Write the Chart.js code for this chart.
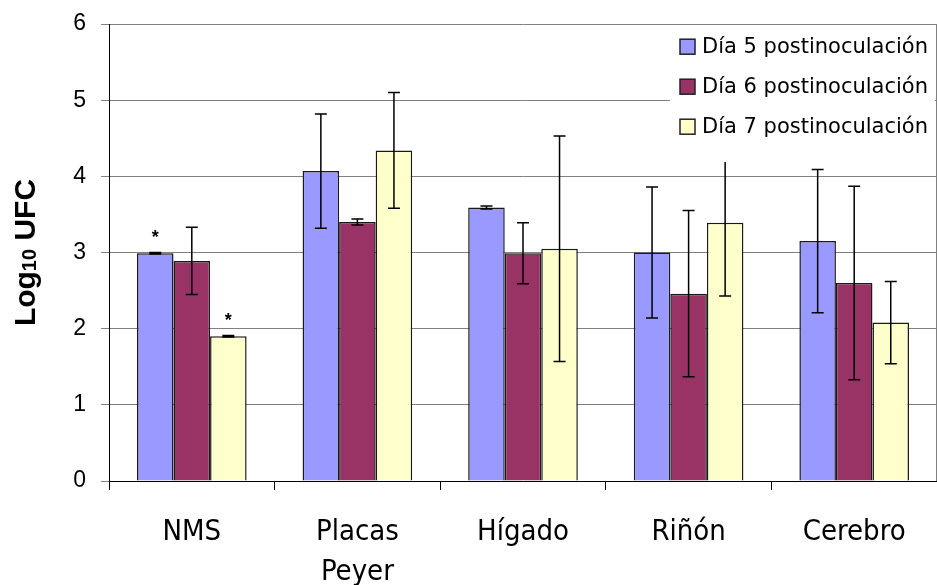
<!DOCTYPE html>
<html>
<head>
<meta charset="utf-8">
<script src="https://cdn.jsdelivr.net/npm/chart.js"></script>
<style>
  html, body { margin: 0; padding: 0; background: #ffffff; }
  #c { display: block; }
</style>
</head>
<body>
<canvas id="c" width="937" height="585"></canvas>
<script>
const categories = ['NMS', ['Placas', 'Peyer'], 'Hígado', 'Riñón', 'Cerebro'];
const seriesLabels = ['Día 5 postinoculación', 'Día 6 postinoculación', 'Día 7 postinoculación'];
const dia5 = [2.99, 4.07, 3.59, 3.00, 3.15];
const err5 = [0.01, 0.75, 0.02, 0.86, 0.94];
const dia6 = [2.89, 3.40, 2.99, 2.46, 2.60];
const err6 = [0.44, 0.04, 0.40, 1.09, 1.27];
const dia7 = [1.90, 4.34, 3.05, 3.39, 2.08];
const err7 = [0.01, 0.76, 1.48, 0.96, 0.54];
const mark5 = ['*', '', '', '', ''];
const mark6 = ['', '', '', '', ''];
const mark7 = ['*', '', '', '', ''];
const yTicks = [0, 1, 2, 3, 4, 5, 6];

const COND = "'DejaVu Sans Condensed', 'DejaVu Sans', sans-serif";
const DEJAVU = "'DejaVu Sans', sans-serif";
const ARIAL = "'Liberation Sans', Arial, sans-serif";

const errorBars = {
  id: 'errorBars',
  afterDatasetsDraw(chart) {
    const ctx = chart.ctx;
    const y = chart.scales.y;
    ctx.save();
    ctx.strokeStyle = '#000000';
    ctx.lineWidth = 1.5;
    chart.data.datasets.forEach((ds, di) => {
      const meta = chart.getDatasetMeta(di);
      meta.data.forEach((bar, i) => {
        const v = ds.data[i], e = ds.errors[i];
        const yt = y.getPixelForValue(v + e);
        const yb = y.getPixelForValue(v - e);
        const x = bar.x;
        ctx.beginPath();
        ctx.moveTo(x, yt); ctx.lineTo(x, yb);
        ctx.moveTo(x - 6, yt); ctx.lineTo(x + 6, yt);
        ctx.moveTo(x - 6, yb); ctx.lineTo(x + 6, yb);
        ctx.stroke();
        const m = ds.marks[i];
        if (m) {
          ctx.fillStyle = '#000000';
          ctx.font = "bold 18px " + ARIAL;
          ctx.textAlign = 'center';
          ctx.textBaseline = 'alphabetic';
          ctx.fillText(m, x, y.getPixelForValue(v + e) - 10);
        }
      });
    });
    ctx.restore();
  }
};

const frameAndLegend = {
  id: 'frameAndLegend',
  afterDraw(chart) {
    const ctx = chart.ctx;
    const a = chart.chartArea;
    ctx.save();
    ctx.strokeStyle = '#808080';
    ctx.lineWidth = 1;
    ctx.beginPath();
    ctx.moveTo(a.right - 0.5, a.top);
    ctx.lineTo(a.right - 0.5, a.bottom);
    ctx.stroke();
    const lx = a.right - 267, ly = a.top + 4, lw = 265, lh = 134;
    ctx.fillStyle = '#ffffff';
    ctx.fillRect(lx, ly, lw, lh);
    ctx.font = "21px " + DEJAVU;
    ctx.textAlign = 'left';
    ctx.textBaseline = 'middle';
    chart.data.datasets.forEach((ds, i) => {
      const cy = a.top + 22.7 + i * 40;
      const bx = lx + 10;
      ctx.fillStyle = ds.backgroundColor;
      ctx.fillRect(bx, cy - 7.5, 15, 15);
      ctx.strokeStyle = '#222222';
      ctx.lineWidth = 1.5;
      ctx.strokeRect(bx, cy - 7.5, 15, 15);
      ctx.fillStyle = '#000000';
      ctx.fillText(ds.label, bx + 22, cy + 1);
    });
    const cx = 35, cyT = (a.top + a.bottom) / 2;
    ctx.translate(cx, cyT);
    ctx.rotate(-Math.PI / 2);
    ctx.fillStyle = '#000000';
    ctx.textAlign = 'left';
    ctx.textBaseline = 'alphabetic';
    const big = "bold 30px " + ARIAL, small = "bold 20px " + ARIAL;
    ctx.font = big; const w1 = ctx.measureText('Log').width;
    ctx.font = small; const w2 = ctx.measureText('10').width;
    ctx.font = big; const w3 = ctx.measureText(' UFC').width;
    let x0 = -(w1 + w2 + w3) / 2;
    ctx.font = big; ctx.fillText('Log', x0, 0);
    ctx.font = small; ctx.fillText('10', x0 + w1, 1);
    ctx.font = big; ctx.fillText(' UFC', x0 + w1 + w2, 0);
    ctx.restore();
  }
};

new Chart(document.getElementById('c'), {
  type: 'bar',
  data: {
    labels: categories,
    datasets: [
      { label: seriesLabels[0], data: dia5, errors: err5, marks: mark5, backgroundColor: '#9999FF', borderColor: '#1a1a1a', borderWidth: 1.5 },
      { label: seriesLabels[1], data: dia6, errors: err6, marks: mark6, backgroundColor: '#993366', borderColor: '#1a1a1a', borderWidth: 1.5 },
      { label: seriesLabels[2], data: dia7, errors: err7, marks: mark7, backgroundColor: '#FFFFCC', borderColor: '#1a1a1a', borderWidth: 1.5 }
    ]
  },
  options: {
    responsive: false,
    devicePixelRatio: 1,
    animation: false,
    layout: { padding: { top: 24, right: 0, left: 0, bottom: 0 } },
    plugins: { legend: { display: false }, tooltip: { enabled: false } },
    datasets: { bar: { categoryPercentage: 0.662, barPercentage: 1.0 } },
    scales: {
      x: {
        grid: { display: true, drawOnChartArea: false, drawTicks: true, tickLength: 9, tickColor: '#000000', offset: true },
        border: { display: true, color: '#000000', width: 1 },
        ticks: { color: '#000000', padding: 22, font: { family: COND, size: 29, lineHeight: 1.4 }, maxRotation: 0, autoSkip: false },
        afterFit(scale) { scale.height = 104; scale.paddingLeft = 0; scale.paddingRight = 0; }
      },
      y: {
        min: 0, max: 6,
        afterBuildTicks(scale) { scale.ticks = yTicks.map(v => ({ value: v })); },
        grid: { color: '#808080', lineWidth: 1, tickLength: 8, tickColor: '#808080' },
        border: { display: true, color: '#000000', width: 1 },
        ticks: { color: '#000000', padding: 15, font: { family: ARIAL, size: 23 } },
        afterFit(scale) { scale.width = 109; scale.paddingTop = 0; scale.paddingBottom = 0; }
      }
    }
  },
  plugins: [errorBars, frameAndLegend]
});
</script>
</body>
</html>
